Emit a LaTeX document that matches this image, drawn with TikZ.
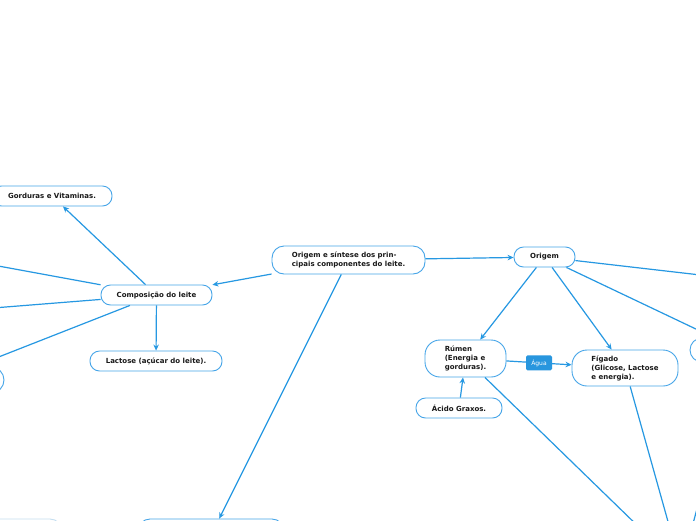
\documentclass[tikz,border=0pt]{standalone}
\usepackage{fontspec}
\setmainfont{DejaVu Sans}
\usetikzlibrary{arrows.meta}
\definecolor{edgeblue}{RGB}{38,152,226}
\definecolor{boxblue}{RGB}{70,165,232}
\definecolor{txt}{RGB}{25,25,25}
\definecolor{aguabg}{RGB}{40,150,222}
\definecolor{paleblue}{RGB}{196,222,240}
\begin{document}
\begin{tikzpicture}[x=1pt,y=-1pt,
  topic/.style={draw=boxblue, line width=0.9pt, fill=white, rounded corners=9.5pt,
    font=\fontsize{7}{9}\selectfont\bfseries, text=txt, inner sep=0pt,
    minimum height=20pt, align=left},
  tall/.style={topic, rounded corners=15pt},
  conn/.style={draw=edgeblue, line width=1.2pt, -{Stealth[length=6pt,width=5.5pt]}},
  lbl/.style={fill=aguabg, text=white, rounded corners=1.5pt,
    font=\fontsize{6}{7}\selectfont, minimum width=26pt, minimum height=15pt, inner sep=0pt}]
\clip (0,0) rectangle (696,520);
\fill[white] (0,0) rectangle (696,520);

% visible nodes
\node[topic, minimum width=120pt] (gord) at (52,196) {Gorduras e Vitaminas.};
\node[topic, minimum width=111pt] (comp) at (156.5,295) {Composição do leite};
\node[topic, minimum width=132pt] (lact) at (156,361) {Lactose (açúcar do leite).};
\node[topic, minimum width=153pt, minimum height=28pt, rounded corners=12pt] (orig) at (348.5,260)
  {Origem e síntese dos prin-\\cipais componentes do leite.};
\node[topic, minimum width=61pt] (origem) at (544.5,257) {Origem};
\node[tall, minimum width=81pt, minimum height=37pt] (rumen) at (465.5,358.5)
  {Rúmen\\(Energia e\\gorduras).};
\node[tall, minimum width=106pt, minimum height=36pt] (figado) at (625,368)
  {Fígado\\(Glicose, Lactose\\e energia).};
\node[topic, minimum width=86pt] (acido) at (459,408) {Ácido Graxos.};

% partly visible / off-picture nodes
\node[topic, minimum width=128pt, minimum height=26pt, rounded corners=13pt] (leftC) at (-60,380) {};
\node[topic, minimum width=120pt, minimum height=26pt, rounded corners=13pt] (leftA) at (-70,253.5) {};
\node[topic, minimum width=120pt, minimum height=26pt, rounded corners=13pt] (leftB) at (-70,313) {};
\node[topic, minimum width=100pt, minimum height=24pt, rounded corners=12pt] (rightB) at (740,350) {};
\node[topic, minimum width=100pt, minimum height=24pt, rounded corners=12pt] (rightA) at (770,283) {};
\node[topic, minimum width=146pt, minimum height=32pt, rounded corners=12pt] (bottom) at (211,535) {};
\node[topic, draw=paleblue, minimum width=124pt, minimum height=32pt, rounded corners=12pt] (bottomL) at (0,535) {};
\node[topic, minimum width=100pt, minimum height=30pt, rounded corners=12pt] (bottomR) at (681,568) {};

% connectors
\draw[conn] (comp) -- (gord);
\draw[conn] (comp) -- (lact);
\draw[conn] (comp) -- (leftA);
\draw[conn] (comp) -- (leftB);
\draw[conn] (comp) -- (leftC);
\draw[conn] (orig) -- (comp);
\draw[conn] (orig) -- (origem);
\draw[conn] (orig) -- (bottom);
\draw[conn] (origem) -- (rumen);
\draw[conn] (origem) -- (figado);
\draw[conn] (origem) -- (rightA);
\draw[conn] (origem) -- (rightB);
\draw[conn] (rumen) -- node[lbl] {Água} (figado);
\draw[conn] (acido) -- (rumen);
\draw[conn] (rumen) -- (bottomR);
\draw[conn] (figado) -- (bottomR);
\draw[conn] (rightB) -- (bottomR);
\end{tikzpicture}
\end{document}
